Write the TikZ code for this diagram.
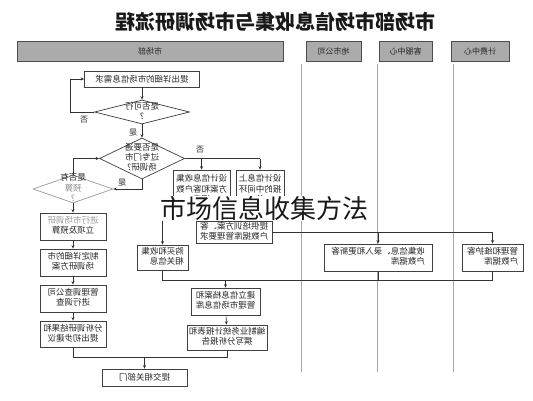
\documentclass[tikz,border=0pt]{standalone}
\usepackage{fontspec}
\setmainfont{Noto Sans CJK SC}
\usetikzlibrary{arrows.meta,shapes.geometric}
\newcommand\mlines[2]{\reflectbox{\begin{tabular}{@{}#1@{}}#2\end{tabular}}}
\newcommand\mone[1]{\reflectbox{#1}}
\begin{document}
\begin{tikzpicture}[x=1pt,y=-1pt,
  box/.style={draw=black!75, line width=0.7pt, fill=white, inner sep=1pt,
    font=\fontsize{8.5}{10}\selectfont, text=black!85},
  hdr/.style={draw=black!70, line width=0.7pt, fill=black!33, inner sep=1pt,
    minimum height=20pt, font=\fontsize{8}{9}\selectfont, text=black!85},
  dia/.style={draw=black!75, line width=0.7pt, shape=diamond, inner sep=0pt},
  dtext/.style={inner sep=0pt, font=\fontsize{8.5}{10}\selectfont, text=black!85},
  lbl/.style={inner sep=0pt, font=\fontsize{8}{9}\selectfont, text=black!85},
  arr/.style={draw=black!80, line width=0.6pt, -{Stealth[length=3.5pt,width=3pt]}},
  conn/.style={draw=black!80, line width=0.6pt},
  lane/.style={draw=black!35, line width=0.6pt}]
\useasboundingbox (0,0) rectangle (533,400);
\fill[white] (0,0) rectangle (533,400);

% title
\node[inner sep=0pt, font=\fontsize{20}{20}\selectfont\bfseries, text=black!90] (title) at (275,22)
  {\mone{市场部市场信息收集与市场调研流程}};

% headers
\node[hdr, minimum width=266pt] (h1) at (150,51) {\mone{市场部}};
\node[hdr, minimum width=55pt] (h2) at (333.5,51) {\mone{地市公司}};
\node[hdr, minimum width=53pt] (h3) at (405.5,51) {\mone{客服中心}};
\node[hdr, minimum width=58pt] (h4) at (480,51) {\mone{计费中心}};

% lane lines
\draw[lane] (301,64) -- (301,372);
\draw[lane] (377,64) -- (377,372);
\draw[lane] (453,64) -- (453,372);

% top box and diamonds
\node[box, minimum width=115pt, minimum height=16pt] (top) at (142,79)
  {\mone{提出详细的市场信息需求}};
\node[dia, minimum width=95pt, minimum height=24pt] (d1) at (142,112) {};
\node[dtext] (d1t) at (142,112) {\mlines{c}{是否可行\\?}};
\node[dia, minimum width=85pt, minimum height=41pt] (d2) at (142,158.5) {};
\node[dtext] (d2t) at (142,158.5) {\mlines{c}{是否要通\\过专门市\\场调研?}};
\node[dia, draw=black!40, minimum width=80pt, minimum height=28pt] (d3) at (73,189) {};
\node[dtext] (d3t) at (73,189) {\mlines{c}{是否有\\\textcolor{black!45}{预算}\\\textcolor{black!45}{?}}};

% branch boxes
\node[box, minimum width=57pt, minimum height=40pt] (A) at (201.5,190)
  {\mlines{c}{设计信息收集\\方案和客户数\\据库}};
\node[box, minimum width=48pt, minimum height=40pt] (B) at (260,190)
  {\mlines{c}{设计信息上\\报的中间环\\节}};
\node[box, minimum width=76pt, minimum height=21pt] (P) at (234,232.5)
  {\mlines{c}{提供培训方案、客\\户数据库管理要求}};
\node[box, minimum width=108pt, minimum height=27pt] (S) at (378,257.5)
  {\mlines{l}{收集信息、录入和更新客\\户数据库}};
\node[box, minimum width=61pt, minimum height=27pt] (M) at (492.5,257.5)
  {\mlines{l}{管理和维护客\\户数据库}};
\node[box, minimum width=51pt, minimum height=25pt] (G) at (162.5,257.5)
  {\mlines{l}{购买和收集\\相关信息}};
\node[box, minimum width=69pt, minimum height=27pt] (J) at (225.5,301.5)
  {\mlines{c}{建立信息档案和\\管理市场信息库}};
\node[box, minimum width=80pt, minimum height=25pt] (Z) at (227,337.5)
  {\mlines{c}{编制业务统计报表和\\撰写分析报告}};
\node[box, minimum width=85pt, minimum height=17pt] (T) at (144.5,377.5)
  {\mone{提交相关部门}};

% left column
\node[box, minimum width=66pt, minimum height=27pt] (b1) at (73,226.5)
  {\mlines{c}{\textcolor{black!40}{进行市场调研}\\立项及预算}};
\node[box, minimum width=66pt, minimum height=27pt] (b2) at (73,262.5)
  {\mlines{c}{制定详细的市\\场调研方案}};
\node[box, minimum width=66pt, minimum height=27pt] (b3) at (73,298.5)
  {\mlines{c}{管理调查公司\\进行调查}};
\node[box, minimum width=66pt, minimum height=26pt] (b4) at (73,334)
  {\mlines{c}{分析调研结果和\\提出初步建议}};

% connectors
\draw[arr] (top.south) -- (d1.north);
\draw[arr] (d1.west) -- ++(-24,0) |- (top.west);
\node[lbl] (l1) at (84,120) {\mone{否}};
\draw[arr] (d1.south) -- (d2.north);
\node[lbl] (l2) at (133,133) {\mone{是}};
\draw[conn] (d2.east) -- (d2.east -| B.north);
\draw[arr] (d2.east -| A.north) -- (A.north);
\draw[arr] (d2.east -| B.north) -- (B.north);
\node[lbl] (l3) at (200,150) {\mone{否}};
\draw[arr] (d2.south) |- (d3.east);
\node[lbl] (l4) at (122,183) {\mone{是}};
\draw[arr] (d3.north) |- (d2.west);
\draw[arr] (d3.south) -- (b1.north);
\draw[arr] (b1) -- (b2);
\draw[arr] (b2) -- (b3);
\draw[arr] (b3) -- (b4);
\coordinate (jb) at (227,357);
\draw[conn] (b4.south) |- (jb) -- (Z.south);
\draw[arr] (T.north |- jb) -- (T.north);

\draw[arr] (A.south) -- ++(0,5) -| (G.north);
\draw[arr] (B.south) -- (B.south |- P.north);
\draw[conn] (P.east) -- (P.east -| M.north);
\draw[arr] (P.east -| S.north) -- (S.north);
\draw[arr] (P.east -| M.north) -- (M.north);
\coordinate (hl) at (162.5,280);
\coordinate (hr) at (492.5,280);
\draw[conn] (G.south) -- (hl) -- (hr) -- (M.south);
\draw[conn] (S.south) -- (S.south |- hl);
\draw[arr] (J.north |- hl) -- (J.north);
\draw[arr] (J) -- (Z);

% overlay caption
\node[anchor=base west, inner sep=0pt, fill=white, text height=22pt, text depth=3pt,
  font=\fontsize{26}{26}\selectfont, text=black!90] (cap) at (160,218) {市场信息收集方法};
\end{tikzpicture}
\end{document}
